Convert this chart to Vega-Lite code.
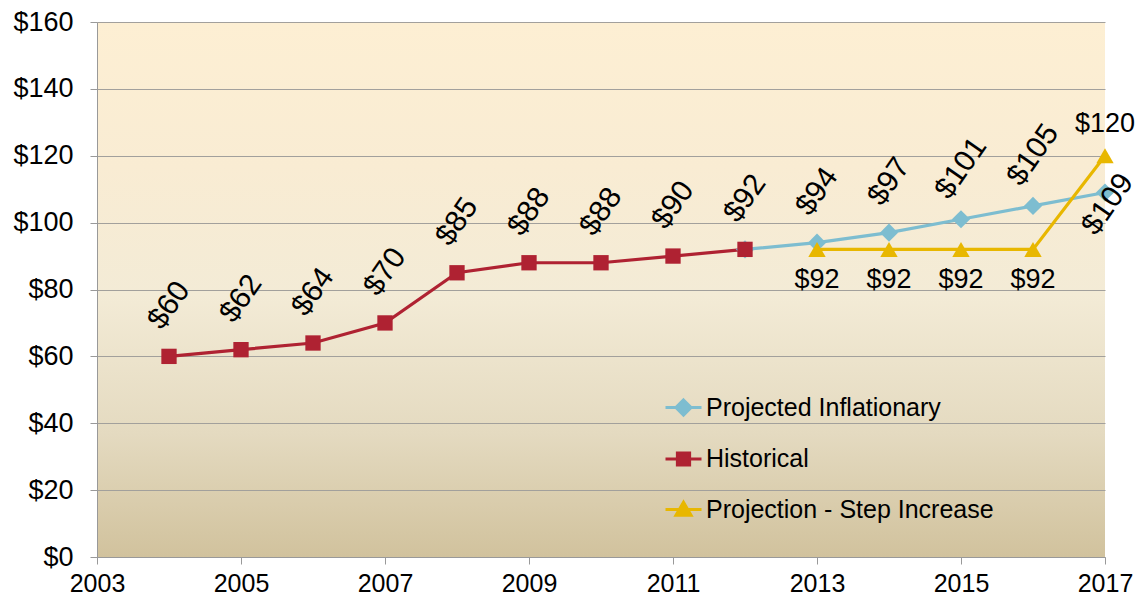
{
  "$schema": "https://vega.github.io/schema/vega-lite/v6.json",
  "autosize": "none",
  "width": 1008,
  "height": 535,
  "padding": {"left": 97, "top": 22, "right": 43, "bottom": 41},
  "background": "white",
  "view": {
    "stroke": null,
    "fill": {
      "gradient": "linear", "x1": 0, "y1": 0, "x2": 0, "y2": 1,
      "stops": [
        {"offset": 0, "color": "#FDEFD3"},
        {"offset": 0.27, "color": "#F9ECD3"},
        {"offset": 0.51, "color": "#F3EBD6"},
        {"offset": 0.77, "color": "#E4DAC0"},
        {"offset": 1, "color": "#D1C29D"}
      ]
    }
  },
  "config": {
    "font": "Liberation Sans",
    "axis": {"labelColor": "black", "labelFont": "Liberation Sans"}
  },
  "data": {
    "values": [
      {"year": 2012, "value": 92, "series": "Projected Inflationary"},
      {"year": 2013, "value": 94, "series": "Projected Inflationary"},
      {"year": 2014, "value": 97, "series": "Projected Inflationary"},
      {"year": 2015, "value": 101, "series": "Projected Inflationary"},
      {"year": 2016, "value": 105, "series": "Projected Inflationary"},
      {"year": 2017, "value": 109, "series": "Projected Inflationary"},
      {"year": 2004, "value": 60, "series": "Historical"},
      {"year": 2005, "value": 62, "series": "Historical"},
      {"year": 2006, "value": 64, "series": "Historical"},
      {"year": 2007, "value": 70, "series": "Historical"},
      {"year": 2008, "value": 85, "series": "Historical"},
      {"year": 2009, "value": 88, "series": "Historical"},
      {"year": 2010, "value": 88, "series": "Historical"},
      {"year": 2011, "value": 90, "series": "Historical"},
      {"year": 2012, "value": 92, "series": "Historical"},
      {"year": 2013, "value": 92, "series": "Projection - Step Increase"},
      {"year": 2014, "value": 92, "series": "Projection - Step Increase"},
      {"year": 2015, "value": 92, "series": "Projection - Step Increase"},
      {"year": 2016, "value": 92, "series": "Projection - Step Increase"},
      {"year": 2017, "value": 120, "series": "Projection - Step Increase"}
    ]
  },
  "encoding": {
    "x": {
      "field": "year", "type": "quantitative",
      "scale": {"domain": [2003, 2017], "nice": false, "zero": false},
      "axis": {
        "values": [2003, 2005, 2007, 2009, 2011, 2013, 2015, 2017],
        "format": "d", "title": null, "grid": false,
        "labelFontSize": 25, "labelPadding": 7, "tickSize": 7,
        "tickColor": "#999999", "domainColor": "#999999",
        "labelFlush": false, "labelOverlap": false
      }
    },
    "y": {
      "field": "value", "type": "quantitative",
      "scale": {"domain": [0, 160], "nice": false},
      "axis": {
        "values": [0, 20, 40, 60, 80, 100, 120, 140, 160],
        "format": "$.0f", "title": null, "grid": true,
        "gridColor": "#A2A09C", "gridWidth": 1.2,
        "labelFontSize": 27, "labelPadding": 17, "tickSize": 7,
        "tickColor": "#999999", "domainColor": "#999999"
      }
    },
    "color": {
      "field": "series", "type": "nominal",
      "scale": {
        "domain": ["Projected Inflationary", "Historical", "Projection - Step Increase"],
        "range": ["#7DBDD0", "#AF2232", "#E8B700"]
      },
      "legend": {
        "title": null, "orient": "none", "legendX": 567, "legendY": 366,
        "padding": 0, "labelFontSize": 25, "labelColor": "black",
        "labelFont": "Liberation Sans", "labelLimit": 500,
        "symbolSize": 1296, "rowPadding": 17.5, "labelOffset": 3,
        "symbolStrokeWidth": 3,
        "encode": {
          "symbols": {
            "update": {
              "shape": {"signal": "datum.value === 'Historical' ? 'M-1,0H1M-0.34,-0.34H0.34V0.34H-0.34Z' : datum.value === 'Projected Inflationary' ? 'M-1,0H1M0,-0.42L0.42,0L0,0.42L-0.42,0Z' : 'M-1,0H1M0,-0.4L0.42,0.32H-0.42Z'"},
              "fill": {"signal": "scale('color', datum.value)"},
              "stroke": {"signal": "scale('color', datum.value)"},
              "strokeWidth": {"value": 3},
              "opacity": {"value": 1},
              "fillOpacity": {"value": 1}
            }
          }
        }
      }
    }
  },
  "layer": [
    {
      "mark": {"type": "line", "strokeWidth": 3.2}
    },
    {
      "transform": [{"filter": "datum.series === 'Projected Inflationary'"}],
      "mark": {"type": "point", "filled": true, "opacity": 1, "shape": "diamond", "size": 330}
    },
    {
      "transform": [{"filter": "datum.series === 'Historical'"}],
      "mark": {"type": "point", "filled": true, "opacity": 1, "shape": "square", "size": 235}
    },
    {
      "transform": [{"filter": "datum.series === 'Projection - Step Increase'"}],
      "mark": {"type": "point", "filled": true, "opacity": 1, "shape": "triangle-up", "size": 300}
    },
    {
      "transform": [
        {"filter": "datum.series === 'Historical' || (datum.series === 'Projected Inflationary' && datum.year > 2012 && datum.year < 2017)"}
      ],
      "mark": {"type": "text", "angle": -55, "align": "center", "baseline": "middle", "radius": 51, "theta": 0, "fontSize": 30},
      "encoding": {"color": {"value": "black"}, "text": {"field": "value", "type": "quantitative", "format": "$.0f"}}
    },
    {
      "transform": [
        {"filter": "datum.series === 'Projected Inflationary' && datum.year === 2017"}
      ],
      "mark": {"type": "text", "angle": -55, "align": "center", "baseline": "middle", "radius": 12, "theta": 2.9, "fontSize": 30},
      "encoding": {"color": {"value": "black"}, "text": {"field": "value", "type": "quantitative", "format": "$.0f"}}
    },
    {
      "transform": [
        {"filter": "datum.series === 'Projection - Step Increase' && datum.year < 2017"}
      ],
      "mark": {"type": "text", "align": "center", "baseline": "middle", "dy": 31, "fontSize": 27},
      "encoding": {"color": {"value": "black"}, "text": {"field": "value", "type": "quantitative", "format": "$.0f"}}
    },
    {
      "transform": [
        {"filter": "datum.series === 'Projection - Step Increase' && datum.year === 2017"}
      ],
      "mark": {"type": "text", "align": "center", "baseline": "middle", "dy": -32, "fontSize": 27},
      "encoding": {"color": {"value": "black"}, "text": {"field": "value", "type": "quantitative", "format": "$.0f"}}
    }
  ]
}
